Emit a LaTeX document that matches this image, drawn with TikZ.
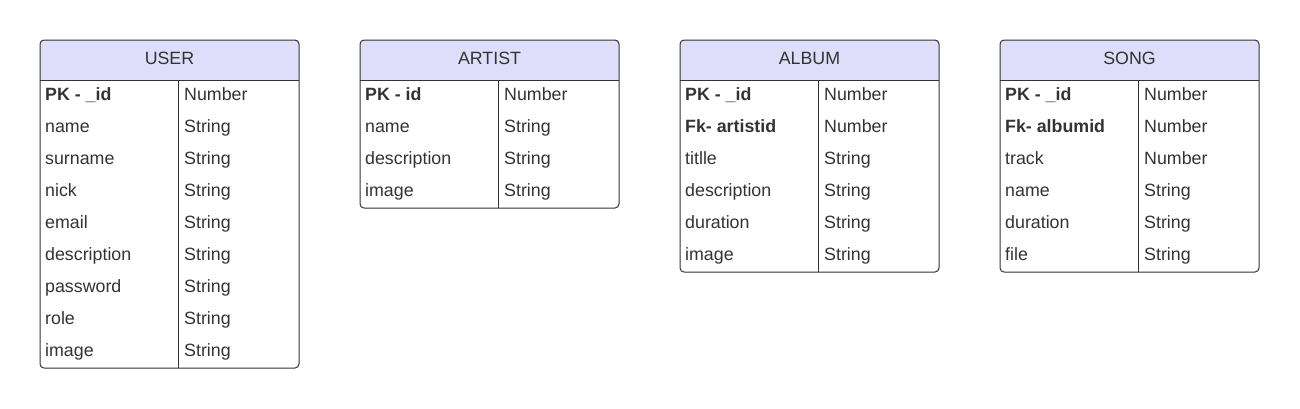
\documentclass[tikz,border=0pt]{standalone}
\usepackage{fontspec}
\setmainfont{Liberation Sans}
\usetikzlibrary{positioning}
\definecolor{headfill}{HTML}{DEDEFA}
\definecolor{linegray}{HTML}{333333}

% one entity table: name, left x, title, number of rows, rows
\newcommand{\erdtable}[5]{%
  \fill[headfill, rounded corners=4pt] (#2,40) rectangle (#2+259,80);
  \fill[headfill] (#2,60) rectangle (#2+259,80);
  \node[headtext] (#1) at (#2+129.5,59.5) {#3};
  \foreach \fld/\typ [count=\i] in {#5} {
    \node[celltext] (#1-f\i) at (#2+5,63.5+32*\i) {\fld};
    \node[celltext] (#1-t\i) at (#2+144,63.5+32*\i) {\typ};
  }
  \draw[tableline] (#2,80) -- (#2+259,80);
  \draw[tableline] (#2+138,80) -- (#2+138,80+32*#4);
  \draw[tableline, rounded corners=4pt] (#2,40) rectangle (#2+259,80+32*#4);
}

\begin{document}
\begin{tikzpicture}[x=1pt, y=-1pt,
    tableline/.style={draw=linegray, line width=1pt},
    headtext/.style={text=linegray, inner sep=0pt, text height=13pt, text depth=4pt,
                     font=\fontsize{17.8}{20}\selectfont},
    celltext/.style={anchor=west, text=linegray, inner sep=0pt, text height=13pt, text depth=4pt,
                     font=\fontsize{17.8}{20}\selectfont}]

  \useasboundingbox (0,0) rectangle (1300,408);

  \erdtable{user}{40}{USER}{9}{{\bfseries PK - \_id}/Number, name/String, surname/String,
    nick/String, email/String, description/String, password/String, role/String, image/String}

  \erdtable{artist}{360}{ARTIST}{4}{{\bfseries PK - id}/Number, name/String,
    description/String, image/String}

  \erdtable{album}{680}{ALBUM}{6}{{\bfseries PK - \_id}/Number, {\bfseries Fk- artistid}/Number,
    titlle/String, description/String, duration/String, image/String}

  \erdtable{song}{1000}{SONG}{6}{{\bfseries PK - \_id}/Number, {\bfseries Fk- albumid}/Number,
    track/Number, name/String, duration/String, file/String}

\end{tikzpicture}
\end{document}
